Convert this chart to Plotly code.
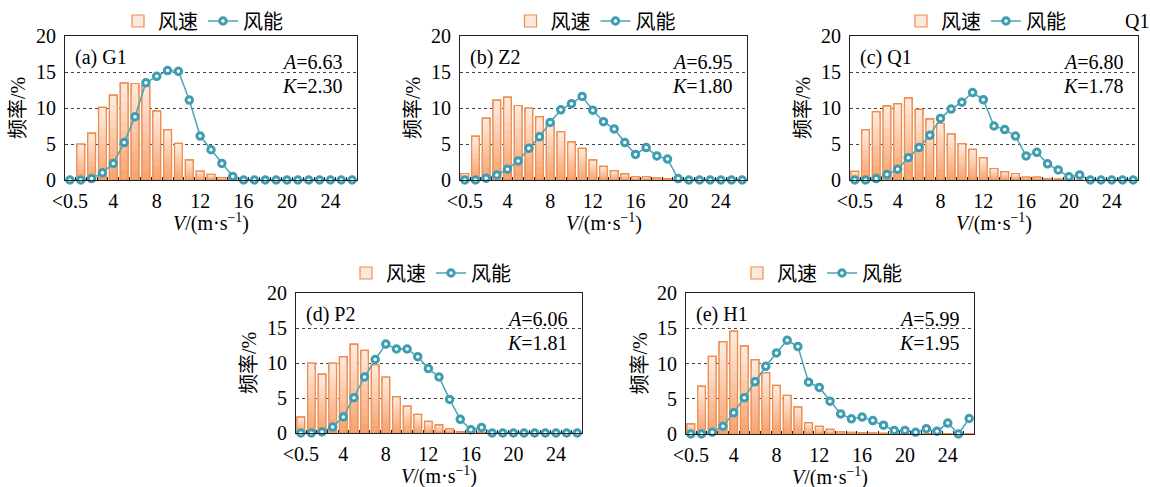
import plotly.graph_objects as go

W, H = 1150, 487

# ---------------- data ----------------
bins = list(range(27))                      # 0 stands for "<0.5"
tick_vals = [0, 4, 8, 12, 16, 20, 24]
tick_text = ["<0.5", "4", "8", "12", "16", "20", "24"]

panel_labels = ["(a) G1", "(b) Z2", "(c) Q1", "(d) P2", "(e) H1"]
A_vals = ["6.63", "6.95", "6.80", "6.06", "5.99"]
K_vals = ["2.30", "1.80", "1.78", "1.81", "1.95"]

speed_a = [0, 5.0, 6.5, 10.1, 11.8, 13.5, 13.4, 13.1, 9.6, 7.0, 5.1, 2.8, 1.25, 0.8, 0.35, 0.1,
           0, 0, 0, 0, 0, 0, 0, 0, 0, 0, 0]
energy_a = [0, 0, 0.2, 1.0, 2.3, 5.2, 8.8, 13.5, 14.4, 15.2, 15.1, 11.1, 6.1, 4.2, 2.3, 0.5,
            0, 0, 0, 0, 0, 0, 0, 0, 0, 0, 0]

speed_b = [0.9, 6.1, 8.6, 11.1, 11.5, 10.35, 10.0, 8.8, 7.8, 6.7, 5.3, 4.4, 2.8, 1.9, 1.3, 0.85,
           0.45, 0.45, 0.3, 0.2, 0.1, 0, 0, 0, 0, 0, 0]
energy_b = [0, 0, 0.25, 0.7, 1.5, 2.65, 4.4, 6.0, 8.0, 9.75, 10.6, 11.6, 9.7, 8.1, 7.1, 5.2,
            3.55, 4.5, 3.35, 2.9, 0.2, 0, 0, 0, 0, 0, 0]

speed_c = [1.2, 7.0, 9.5, 10.3, 10.6, 11.4, 9.8, 8.5, 7.85, 6.4, 5.05, 4.25, 3.1, 1.6, 1.15, 0.9,
           0.4, 0.4, 0.2, 0.15, 0.1, 0, 0, 0, 0, 0, 0]
energy_c = [0, 0, 0.2, 0.75, 1.5, 3.1, 4.5, 6.2, 8.55, 9.85, 10.8, 12.15, 11.15, 7.5, 7.0, 6.1,
            3.35, 3.85, 2.25, 1.4, 0.45, 0.7, 0, 0, 0, 0, 0]

speed_d = [2.3, 10.0, 8.4, 10.0, 10.9, 12.7, 11.8, 9.75, 8.0, 5.2, 3.85, 2.65, 1.65, 1.15, 0.6, 0.2,
           0.2, 0.1, 0, 0, 0, 0, 0, 0, 0, 0, 0]
energy_d = [0, 0, 0.15, 0.85, 2.3, 5.05, 8.0, 10.5, 12.7, 12.0, 12.0, 10.9, 9.2, 8.0, 4.8, 1.95,
            0.45, 0.8, 0, 0, 0, 0, 0, 0, 0, 0, 0]

speed_e = [1.45, 6.8, 11.0, 13.1, 14.6, 12.5, 10.55, 8.7, 6.9, 5.5, 3.85, 1.6, 1.1, 0.65, 0.3, 0.25,
           0.2, 0.15, 0.1, 0.05, 0.05, 0.05, 0.05, 0.05, 0.05, 0.05, 0.05]
energy_e = [0, 0, 0.25, 1.1, 3.0, 5.15, 7.4, 9.6, 11.5, 13.3, 12.4, 7.35, 6.6, 4.65, 2.85, 2.15,
            2.4, 1.9, 1.25, 0.5, 0.5, 0.25, 0.75, 0.4, 1.55, 0, 2.2]

speeds = [speed_a, speed_b, speed_c, speed_d, speed_e]
energies = [energy_a, energy_b, energy_c, energy_d, energy_e]

# ---------------- layout (pixel boxes: left, top, right, bottom) ----------------
boxes = [(65, 36, 357, 180), (460, 36, 747, 180), (850, 36, 1138, 180),
         (296, 293, 582, 433), (686, 293, 974, 434)]
legend_dy = [15, 15, 15, 20, 20]

SERIF = "Liberation Serif, Times New Roman, serif"
CJK = "Liberation Serif, Noto Sans CJK SC, sans-serif"
EDGE = "#ee8c4f"
LINE = "#4aa5b7"


def px(x):
    return x / W


def py(y):
    return 1 - y / H


# gradient layers for the bars (top light -> bottom darker)
top_c = (253, 233, 220)
bot_c = (247, 166, 115)
N_LAYERS = 10
fracs = [1 - i / N_LAYERS for i in range(N_LAYERS)]


def mix(t):
    return "rgb(%d,%d,%d)" % tuple(round(top_c[i] + (bot_c[i] - top_c[i]) * t) for i in range(3))


fig = go.Figure()
layout = dict(width=W, height=H, margin=dict(l=0, r=0, t=0, b=0, autoexpand=False), autosize=False,
              paper_bgcolor="white", plot_bgcolor="white", barmode="overlay",
              font=dict(family=SERIF, size=20, color="black"), annotations=[])

for k in range(5):
    n = "" if k == 0 else str(k + 1)
    xa, ya = "x" + n, "y" + n
    lg = "legend" + n
    L, T, R, B = boxes[k]
    sp = speeds[k]
    en = energies[k]

    for j, f in enumerate(fracs):
        fig.add_trace(go.Bar(
            x=bins, y=[v * f for v in sp], xaxis=xa, yaxis=ya, width=0.72,
            marker=dict(color=mix(j / (len(fracs) - 1)),
                        line=dict(color=EDGE, width=1.2 if j == 0 else 0)),
            name="风速", showlegend=(j == 0), legend=lg, hoverinfo="skip"))
    fig.add_trace(go.Bar(
        x=bins, y=sp, xaxis=xa, yaxis=ya, width=0.72,
        marker=dict(color="rgba(0,0,0,0)", line=dict(color=EDGE, width=1.2)),
        showlegend=False, hoverinfo="skip"))
    fig.add_trace(go.Scatter(
        x=bins, y=en, xaxis=xa, yaxis=ya, mode="lines+markers", name="风能",
        line=dict(color=LINE, width=1.5),
        marker=dict(symbol="circle", size=6.5, color="white", line=dict(color="#3f9db1", width=3)),
        cliponaxis=False, legend=lg))

    layout["xaxis" + n] = dict(
        domain=[px(L), px(R)], anchor=ya, range=[-0.45, 26.45], automargin=False,
        tickmode="array", tickvals=tick_vals, ticktext=tick_text, ticks="",
        showline=True, linecolor="#222", linewidth=1, mirror=True,
        showgrid=False, zeroline=False, ticklabelstandoff=3,
        tickfont=dict(family=SERIF, size=20, color="black"),
        minor=dict(tickmode="array", tickvals=[i + 0.5 for i in range(-1, 27)],
                   ticks="inside", ticklen=3, tickcolor="#222", showgrid=False))
    layout["yaxis" + n] = dict(
        domain=[py(B), py(T)], anchor=xa, range=[0, 20], automargin=False,
        tickmode="array", tickvals=[0, 5, 10, 15, 20], ticks="",
        showline=True, linecolor="#222", linewidth=1, mirror=True,
        showgrid=True, gridcolor="#444", griddash="dot", gridwidth=1,
        zeroline=False, ticklabelstandoff=4,
        tickfont=dict(family=SERIF, size=20, color="black"))
    layout[lg] = dict(
        x=px((L + R) / 2 - 8), y=py(T - legend_dy[k]), xref="paper", yref="paper",
        xanchor="center", yanchor="middle", orientation="h",
        font=dict(family=CJK, size=20, color="black"), bgcolor="rgba(0,0,0,0)",
        itemwidth=30, tracegroupgap=0)

    ann = layout["annotations"]
    ann.append(dict(x=px(L + 8), y=py(T + 21), xref="paper", yref="paper", xanchor="left",
                    yanchor="middle", text=panel_labels[k], showarrow=False,
                    font=dict(family=SERIF, size=20)))
    ann.append(dict(x=px(R - 12), y=py(T + 26), xref="paper", yref="paper", xanchor="right",
                    yanchor="middle", text="<i>A</i>=" + A_vals[k], showarrow=False,
                    font=dict(family=SERIF, size=20)))
    ann.append(dict(x=px(R - 12), y=py(T + 50), xref="paper", yref="paper", xanchor="right",
                    yanchor="middle", text="<i>K</i>=" + K_vals[k], showarrow=False,
                    font=dict(family=SERIF, size=20)))
    ann.append(dict(x=px(L - 47), y=py((T + B) / 2), xref="paper", yref="paper", xanchor="center",
                    yanchor="middle", text="频率/%", textangle=-90, showarrow=False,
                    font=dict(family=CJK, size=20)))
    ann.append(dict(x=px((L + R) / 2), y=py(B + 42), xref="paper", yref="paper", xanchor="center",
                    yanchor="middle", text="<i>V</i>/(m·s<sup>−1</sup>)", showarrow=False,
                    font=dict(family=SERIF, size=20)))

layout["annotations"].append(dict(x=px(1137), y=py(21), xref="paper", yref="paper",
                                  xanchor="center", yanchor="middle", text="Q1", showarrow=False,
                                  font=dict(family=SERIF, size=20)))

fig.update_layout(**layout)
fig.write_html("out.html")
